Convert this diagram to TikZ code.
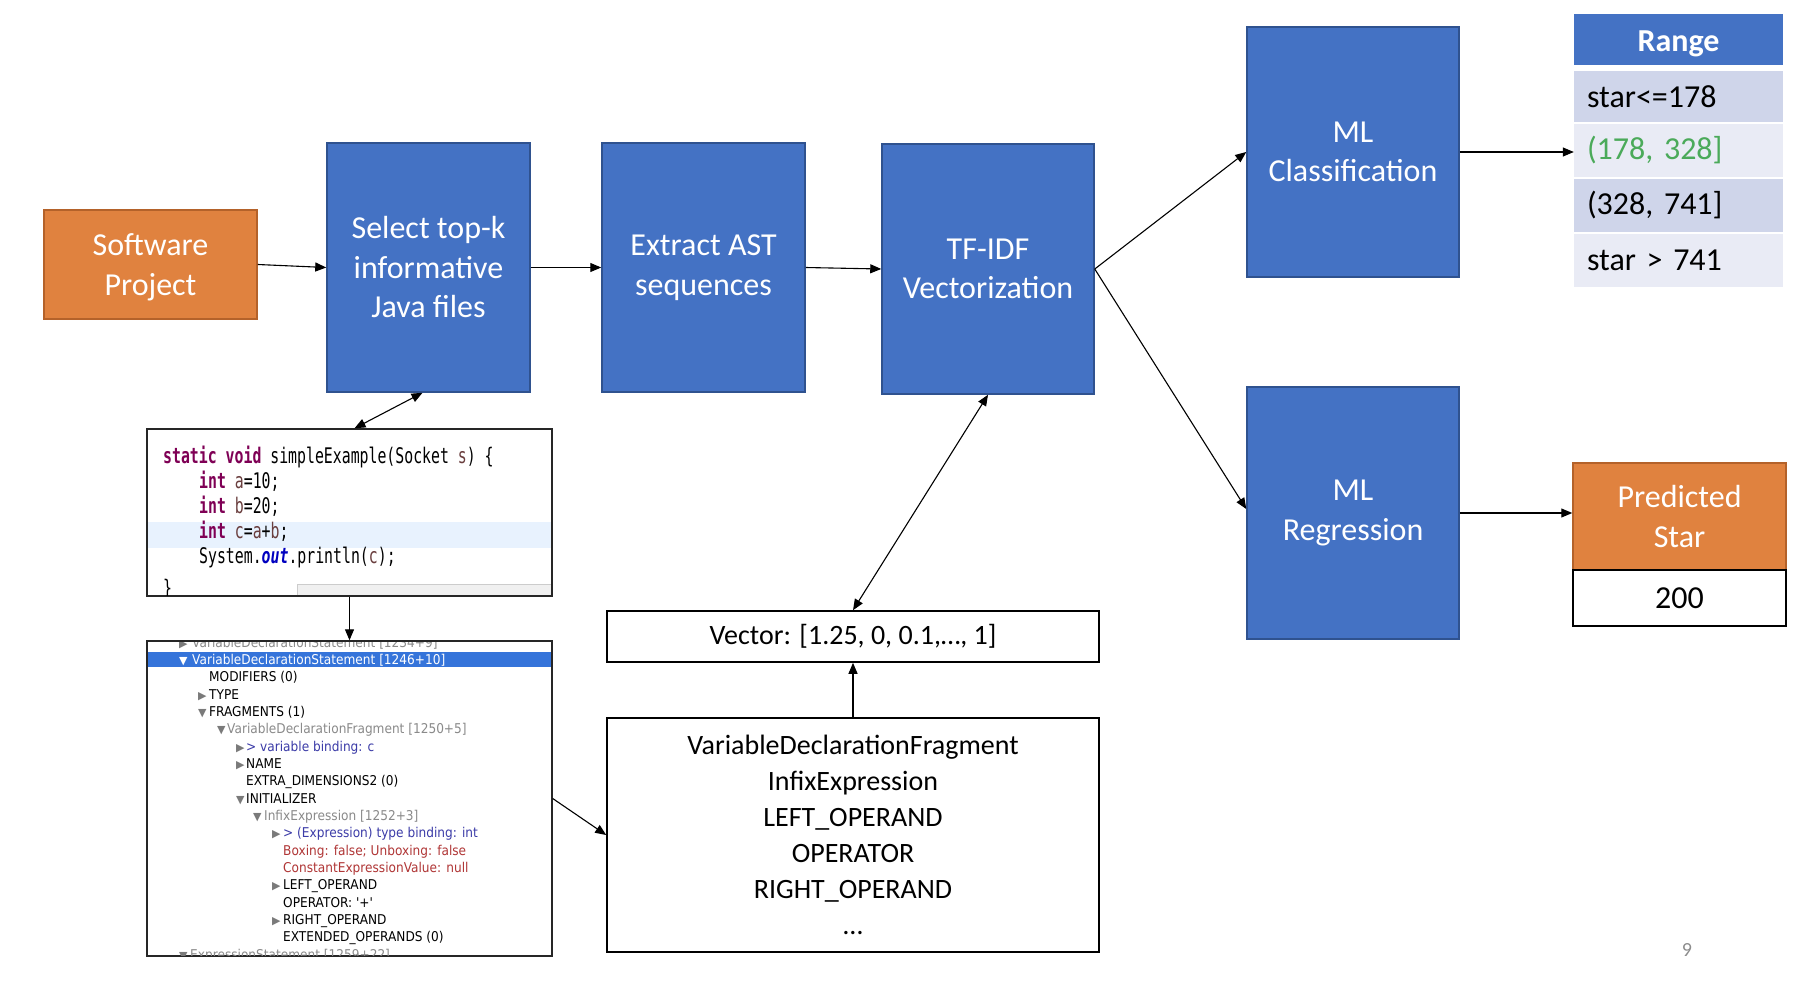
\documentclass[tikz,border=0pt]{standalone}
\usepackage{fontspec}
\setmainfont{Carlito}
\newfontfamily\codefont{DejaVu Sans Mono}[FakeStretch=0.69]
\newfontfamily\treefont{DejaVu Sans}[FakeStretch=0.9]
\newfontfamily\symfont{DejaVu Sans}
\usetikzlibrary{arrows.meta,calc}
\definecolor{oblue}{HTML}{4472C4}
\definecolor{oblueb}{HTML}{2F528F}
\definecolor{oorange}{HTML}{E0823F}
\definecolor{oorangeb}{HTML}{B4622A}
\definecolor{rowa}{HTML}{CFD5EA}
\definecolor{rowb}{HTML}{E9EBF5}
\definecolor{rgreen}{HTML}{4BAA5A}
\definecolor{kw}{HTML}{7F0055}
\definecolor{lvar}{HTML}{6A3E3E}
\definecolor{fld}{HTML}{0000C0}
\definecolor{hl}{HTML}{E8F2FE}
\definecolor{selbar}{HTML}{3574DA}
\definecolor{tgray}{HTML}{8A8A8A}
\definecolor{tblue}{HTML}{3C3CA8}
\definecolor{tred}{HTML}{B03636}
\definecolor{trigray}{HTML}{7A7A7A}
\definecolor{pgray}{HTML}{8C8C8C}
\tikzset{
  bluebox/.style={draw=oblueb, line width=1.5pt, fill=oblue, text=white, font=\fontsize{32}{39.5}\selectfont, align=center, inner sep=0pt},
  orangebox/.style={draw=oorangeb, line width=1.5pt, fill=oorange, text=white, font=\fontsize{32}{40}\selectfont, align=center, inner sep=0pt},
  plainbox/.style={draw=black, line width=1.6pt, fill=white, align=center, inner sep=0pt},
  shotbox/.style={draw=black!85, line width=1.4pt, inner sep=0pt},
  cell/.style={inner sep=0pt, inner xsep=13pt, text width=183pt, align=left, minimum height=#1, font=\fontsize{32}{38}\selectfont},
  arr/.style={line width=1.1pt, -{Triangle[length=11pt,width=9pt]}},
  darr/.style={line width=1.1pt, {Triangle[length=11pt,width=9pt]}-{Triangle[length=11pt,width=9pt]}},
  codetxt/.style={anchor=base west, inner sep=0pt, font=\codefont\fontsize{21.5}{25}\selectfont},
  treetxt/.style={anchor=base west, inner sep=0pt, font=\treefont\fontsize{13.5}{17}\selectfont},
  tri/.style={anchor=base west, inner sep=0pt, text=trigray, font=\symfont\fontsize{11}{12}\selectfont},
}
\begin{document}
\begin{tikzpicture}[x=1pt,y=-1pt]
\useasboundingbox (0,0) rectangle (1814,982);

% main pipeline
\node[orangebox, minimum width=213pt, minimum height=109pt] (sp) at (150.5,264.5) {\rule{0pt}{28pt}Software\\Project};
\node[bluebox, minimum width=203pt, minimum height=249pt] (sel) at (428.5,267.5) {Select top-k\\informative\\Java files};
\node[bluebox, minimum width=203pt, minimum height=249pt] (ext) at (703.5,267.5) {Extract AST\\sequences};
\node[bluebox, minimum width=212pt, minimum height=250pt] (tfidf) at (988,269) {TF-IDF\\Vectorization};
\node[bluebox, minimum width=212pt, minimum height=250pt] (cls) at (1353,152) {ML\\Classification};
\node[bluebox, minimum width=212pt, minimum height=252pt] (reg) at (1353,513) {ML\\Regression};

% range table
\node[fill=oblue, text=white, inner sep=0pt, minimum width=209pt, minimum height=51pt, text height=31pt, text depth=6.6pt, font=\fontsize{32}{38}\selectfont\bfseries] (rh) at (1678.5,39.5) {Range};
\node[cell=51pt, fill=rowa] (r1) at (1678.5,96.5) {star<=178};
\node[cell=53pt, fill=rowb, text=rgreen] (r2) at (1678.5,150.5) {(178, 328]};
\node[cell=53pt, fill=rowa] (r3) at (1678.5,205.5) {(328, 741]};
\node[cell=53pt, fill=rowb] (r4) at (1678.5,260.5) {star > 741};

% predicted star
\node[orangebox, minimum width=213pt, minimum height=107pt] (pred) at (1679.5,516.5) {Predicted\\Star};
\node[plainbox, minimum width=213pt, minimum height=56pt, font=\fontsize{32}{38}\selectfont] (val) at (1679.5,598) {200};

% vector and fragment boxes
\node[plainbox, minimum width=492pt, minimum height=51pt, font=\fontsize{28}{34}\selectfont] (vec) at (853,636.5) {Vector: [1.25, 0, 0.1,…, 1]};
\node[plainbox, minimum width=492pt, minimum height=234pt, font=\fontsize{28}{36}\selectfont] (frag) at (853,835) {VariableDeclarationFragment\\InfixExpression\\LEFT\_OPERAND\\OPERATOR\\RIGHT\_OPERAND\\…};

% code screenshot
\node[shotbox, fill=white, minimum width=405pt, minimum height=167pt] (code) at (349.5,512.5) {};
\fill[hl] (148,522) rectangle (551,548);
\fill[black!6] (297,584) rectangle (551,595);
\draw[black!20, line width=0.8pt] (297,595) -- (297,584) -- (551,584);
\node[codetxt] (c1) at (163,463) {\textcolor{kw}{\bfseries static void} simpleExample(Socket \textcolor{lvar}{s}) \{};
\node[codetxt] (c2) at (199,488) {\textcolor{kw}{\bfseries int} \textcolor{lvar}{a}=10;};
\node[codetxt] (c3) at (199,513) {\textcolor{kw}{\bfseries int} \textcolor{lvar}{b}=20;};
\node[codetxt] (c4) at (199,538) {\textcolor{kw}{\bfseries int} \textcolor{lvar}{c}=\textcolor{lvar}{a}+\textcolor{lvar}{b};};
\node[codetxt] (c5) at (199,563) {System.\textcolor{fld}{\bfseries\itshape out}.println(\textcolor{lvar}{c});};
\begin{scope}
\clip (148,430) rectangle (551,595);
\node[codetxt] (c6) at (163,595) {\}};
\end{scope}
\draw[black!85, line width=1.4pt] (code.north west) rectangle (code.south east);

% AST tree screenshot
\node[shotbox, fill=white, minimum width=405pt, minimum height=315pt] (tree) at (349.5,798.5) {};
\begin{scope}
\clip (148,642) rectangle (551,955);
\fill[selbar] (148,651.7) rectangle (551,667.3);
\node[tri] (g0) at (179,647.2) {▶};
\node[treetxt, text=tgray] (t0) at (192,647.2) {VariableDeclarationStatement [1234+9]};
\node[tri, text=white] (g1) at (179,664.5) {▼};
\node[treetxt, text=white] (t1) at (192,664.5) {VariableDeclarationStatement [1246+10]};
\node[treetxt] (t2) at (209,681.9) {MODIFIERS (0)};
\node[tri] (g3) at (198,699.2) {▶};
\node[treetxt] (t3) at (209,699.2) {TYPE};
\node[tri] (g4) at (198,716.5) {▼};
\node[treetxt] (t4) at (209,716.5) {FRAGMENTS (1)};
\node[tri] (g5) at (217,733.9) {▼};
\node[treetxt, text=tgray] (t5) at (227,733.9) {VariableDeclarationFragment [1250+5]};
\node[tri] (g6) at (236,751.2) {▶};
\node[treetxt, text=tblue] (t6) at (246,751.2) {> variable binding: c};
\node[tri] (g7) at (236,768.5) {▶};
\node[treetxt] (t7) at (246,768.5) {NAME};
\node[treetxt] (t8) at (246,785.8) {EXTRA\_DIMENSIONS2 (0)};
\node[tri] (g9) at (236,803.2) {▼};
\node[treetxt] (t9) at (246,803.2) {INITIALIZER};
\node[tri] (g10) at (253,820.5) {▼};
\node[treetxt, text=tgray] (t10) at (264,820.5) {InfixExpression [1252+3]};
\node[tri] (g11) at (272,837.8) {▶};
\node[treetxt, text=tblue] (t11) at (283,837.8) {> (Expression) type binding: int};
\node[treetxt, text=tred] (t12) at (283,855.2) {Boxing: false; Unboxing: false};
\node[treetxt, text=tred] (t13) at (283,872.5) {ConstantExpressionValue: null};
\node[tri] (g14) at (272,889.8) {▶};
\node[treetxt] (t14) at (283,889.8) {LEFT\_OPERAND};
\node[treetxt] (t15) at (283,907.2) {OPERATOR: '+'};
\node[tri] (g16) at (272,924.5) {▶};
\node[treetxt] (t16) at (283,924.5) {RIGHT\_OPERAND};
\node[treetxt] (t17) at (283,941.8) {EXTENDED\_OPERANDS (0)};
\node[tri] (g18) at (179,959.1) {▼};
\node[treetxt, text=tgray] (t18) at (190,959.1) {ExpressionStatement [1259+22]};
\end{scope}
\draw[black!85, line width=1.4pt] (tree.north west) rectangle (tree.south east);

% page number
\node[text=pgray, font=\fontsize{20}{24}\selectfont, inner sep=0pt] (pg) at (1687,950) {9};

% connectors
\draw[arr] (sp.east) -- (sel.west);
\draw[arr] (sel.east) -- (ext.west);
\draw[arr] (ext.east) -- (tfidf.west);
\draw[arr] (tfidf.east) -- (cls.west);
\draw[arr] (tfidf.east) -- ($(reg.west)+(0,-4)$);
\draw[arr] (cls.east) -- (cls.east -| r2.west);
\draw[arr] (reg.east) -- (reg.east -| pred.west);
\draw[darr] ($(sel.south)+(-6,0)$) -- ($(code.north)+(5,0)$);
\draw[arr] (code.south) -- (tree.north);
\draw[darr] (tfidf.south) -- (vec.north);
\draw[arr] (frag.north) -- (vec.south);
\draw[arr] (tree.east) -- (frag.west);
\end{tikzpicture}
\end{document}
